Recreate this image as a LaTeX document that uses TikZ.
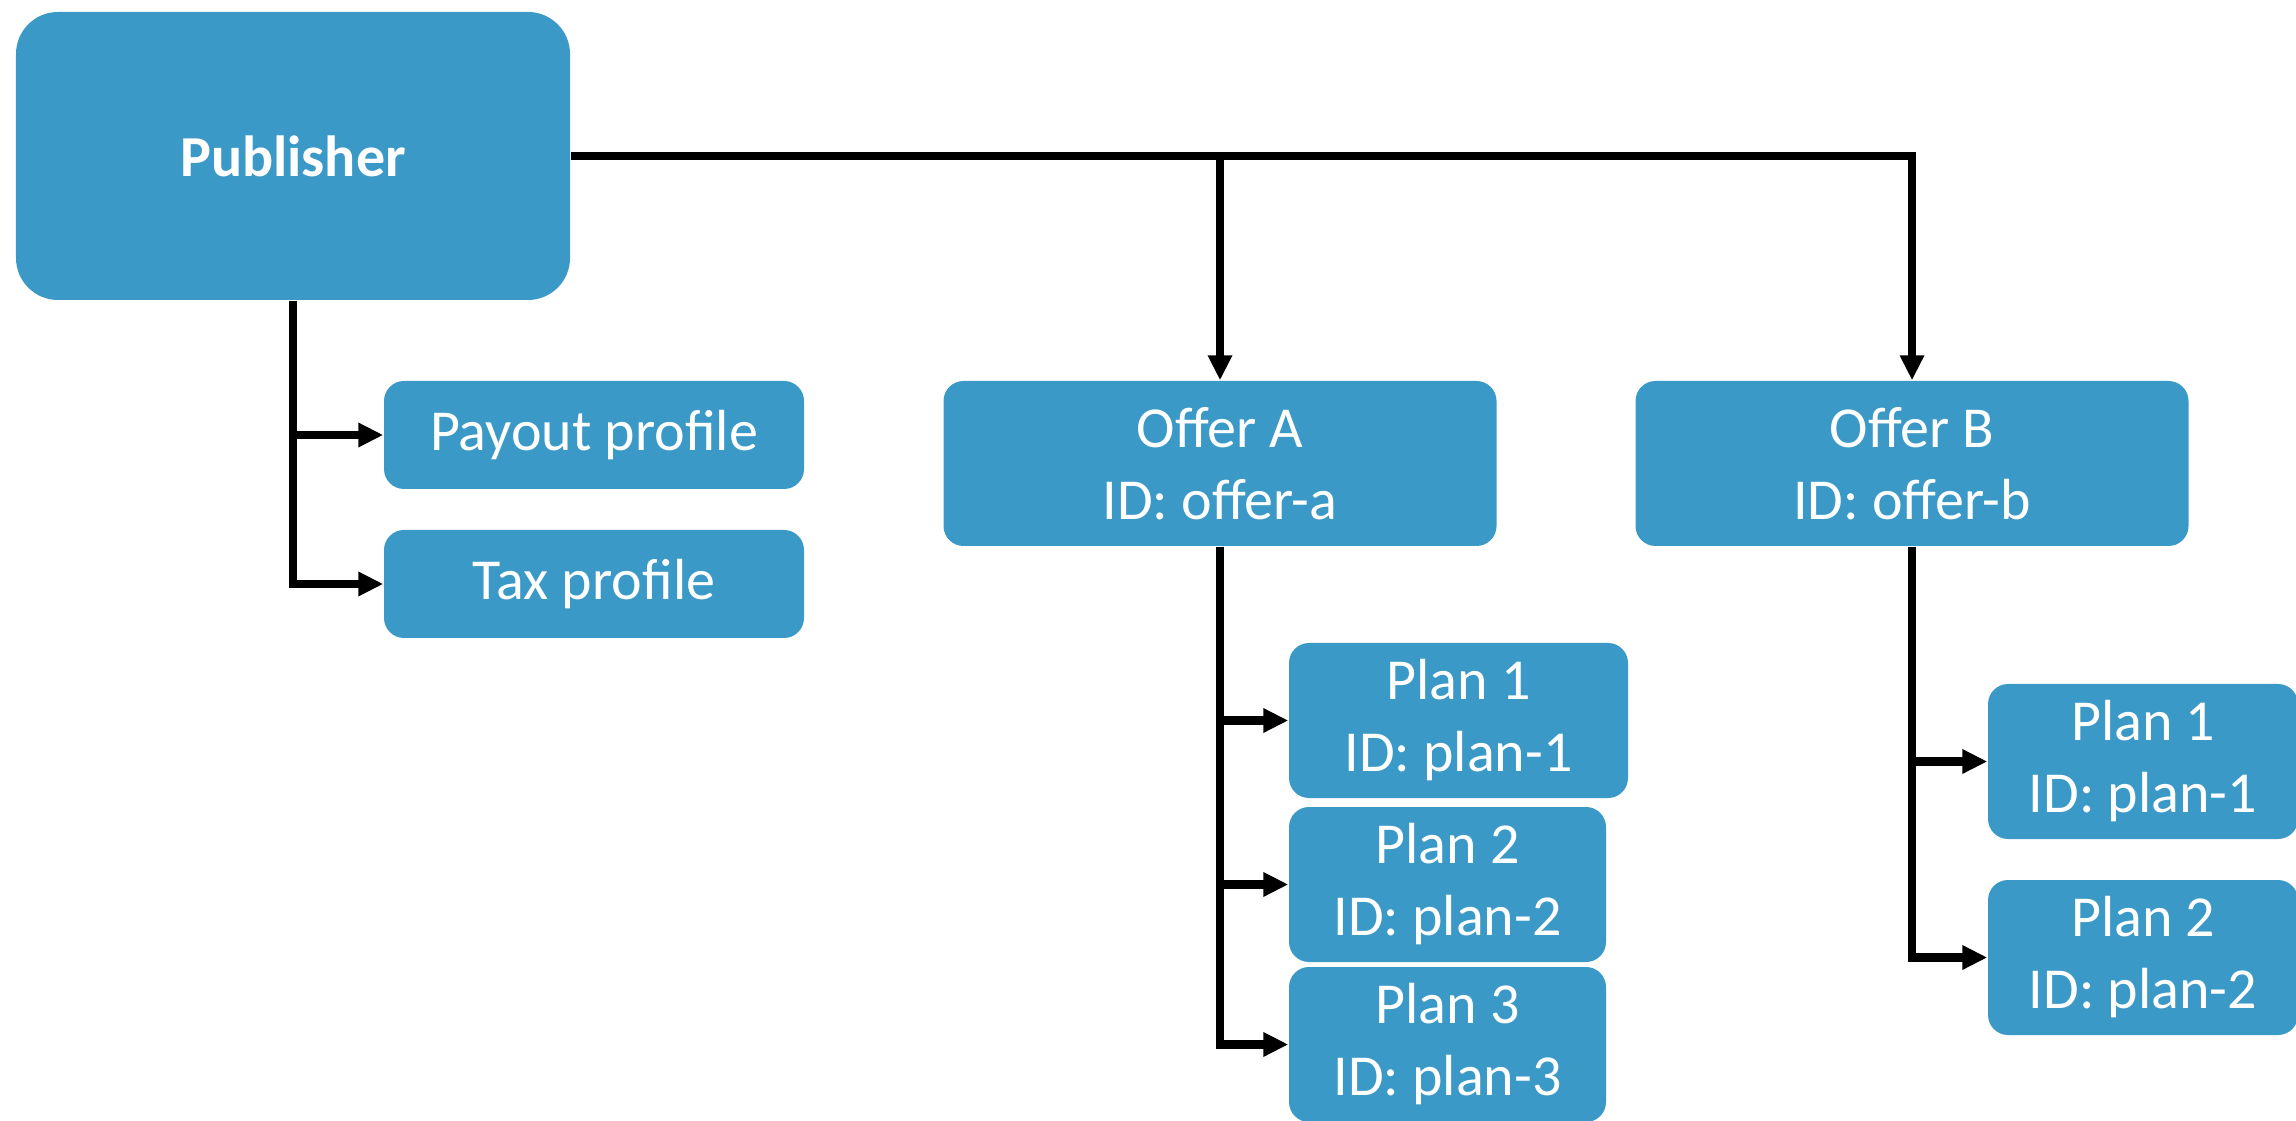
\documentclass[tikz,border=0pt]{standalone}
\usepackage{fontspec}
\setmainfont{Carlito}
\usetikzlibrary{arrows.meta}
\definecolor{boxblue}{RGB}{58,153,198}

\begin{document}
\begin{tikzpicture}[
    box/.style={fill=boxblue,text=white,rounded corners=0.2cm,align=center,
                font=\fontsize{16.5}{20.5}\selectfont,inner sep=0pt},
    arr/.style={line width=2.3pt,-{Triangle[width=0.23cm,length=0.25cm]}}]
  \useasboundingbox (0,0) rectangle (22.96,-11.21);

   \node[box,rounded corners=0.42cm,minimum width=5.54cm,minimum height=2.88cm,font=\fontsize{16.5}{20.5}\selectfont\bfseries] (P) at (2.93,-1.56) {Publisher};
   \node[box,minimum width=4.2cm,minimum height=1.08cm] (Pay) at (5.94,-4.35) {Payout profile};
   \node[box,minimum width=4.2cm,minimum height=1.08cm] (Tax) at (5.94,-5.84) {Tax profile};

   \node[box,minimum width=5.53cm,minimum height=1.65cm] (OA) at (12.2,-4.635) {Offer A\\ID: offer-a};
   \node[box,minimum width=5.53cm,minimum height=1.65cm] (OB) at (19.12,-4.635) {Offer B\\ID: offer-b};

   \foreach \n/\x/\y/\w in {1/14.585/-7.205/3.39,2/14.475/-8.845/3.17,3/14.475/-10.445/3.17}
           \node[box,minimum width=\w cm,minimum height=1.55cm] (A\n) at (\x,\y) {Plan \n\\ID: plan-\n};
   \foreach \n/\y in {1/-7.615,2/-9.575}
           \node[box,minimum width=3.1cm,minimum height=1.55cm] (B\n) at (21.43,\y) {Plan \n\\ID: plan-\n};

\draw[arr] (P.east) -| (OB.north);
\draw[arr] (P.east -| OA.north) -- (OA.north);

\draw[arr] (P.south) |- (Pay.west);
\draw[arr] (P.south) |- (Tax.west);

\foreach \n in {1,2,3}
  \draw[arr] (OA.south) |- (A\n.west);
\foreach \n in {1,2}
  \draw[arr] (OB.south) |- (B\n.west);
\end{tikzpicture}
\end{document}
